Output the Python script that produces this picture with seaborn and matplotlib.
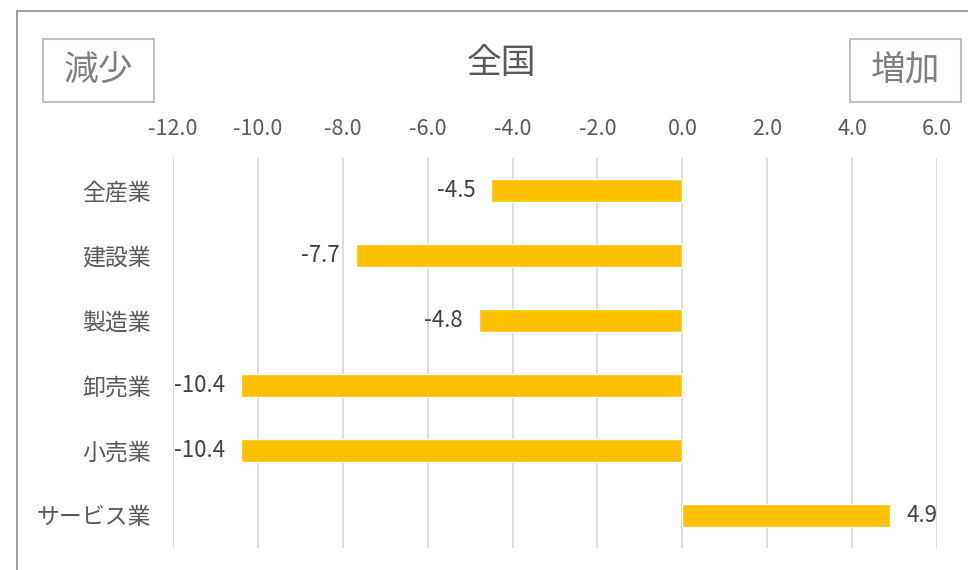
import seaborn as sns
import matplotlib.pyplot as plt
import matplotlib.patches as mpatches
import pandas as pd

# Data
categories = ["全産業", "建設業", "製造業", "卸売業", "小売業", "サービス業"]
values = [-4.5, -7.7, -4.8, -10.4, -10.4, 4.9]
xticks = [-12.0, -10.0, -8.0, -6.0, -4.0, -2.0, 0.0, 2.0, 4.0, 6.0]

sns.set_style("white")
plt.rcParams["font.family"] = ["Noto Sans CJK JP", "DejaVu Sans"]

df = pd.DataFrame({"category": categories, "value": values})

fig = plt.figure(figsize=(9.68, 5.7), dpi=100)
ax = fig.add_axes([173 / 968, 1 - 548 / 570, 764 / 968, 390 / 570])

sns.barplot(data=df, x="value", y="category", color="#FFC000", width=0.34,
            saturation=1, ax=ax, zorder=3)

ax.set_xlim(-12, 6)
ax.set_ylim(5.5, -0.5)
ax.set_xticks(xticks)
ax.set_xticklabels([f"{t:.1f}" for t in xticks])
ax.xaxis.tick_top()
ax.tick_params(axis="x", length=0, pad=13, labelsize=15.5, labelcolor="#595959")
ax.tick_params(axis="y", length=0, pad=16, labelsize=16.5, labelcolor="#595959")
ax.set_xlabel("")
ax.set_ylabel("")
ax.grid(axis="x", color="#D9D9D9", linewidth=1.3, zorder=0)
ax.grid(axis="y", visible=False)
for s in ax.spines.values():
    s.set_visible(False)

# value labels
for i, v in enumerate(values):
    if v < 0:
        ax.text(v - 0.37, i, f"{v:.1f}", ha="right", va="center",
                fontsize=16, color="#404040")
    else:
        ax.text(v + 0.37, i, f"{v:.1f}", ha="left", va="center",
                fontsize=16, color="#404040")

# title
fig.text(501 / 968, 1 - 63 / 570, "全国", ha="center", va="center",
         fontsize=25, color="#595959")

# labelled boxes
for x0, label in [(43, "減少"), (850, "増加")]:
    fig.patches.append(mpatches.Rectangle((x0 / 968, 1 - 102 / 570), 111 / 968, 63 / 570,
                                          transform=fig.transFigure, fill=False,
                                          edgecolor="#BFBFBF", linewidth=1.5))
    fig.text((x0 + 55.5) / 968, 1 - 71 / 570, label, ha="center", va="center",
             fontsize=25, color="#7F7F7F")

# outer frame
fig.patches.append(mpatches.Rectangle((17 / 968, -0.1), 1.2, 1 - 11 / 570 + 0.1,
                                      transform=fig.transFigure, fill=False,
                                      edgecolor="#8C8C8C", linewidth=1.2))

fig.savefig("out.png", dpi=100)
